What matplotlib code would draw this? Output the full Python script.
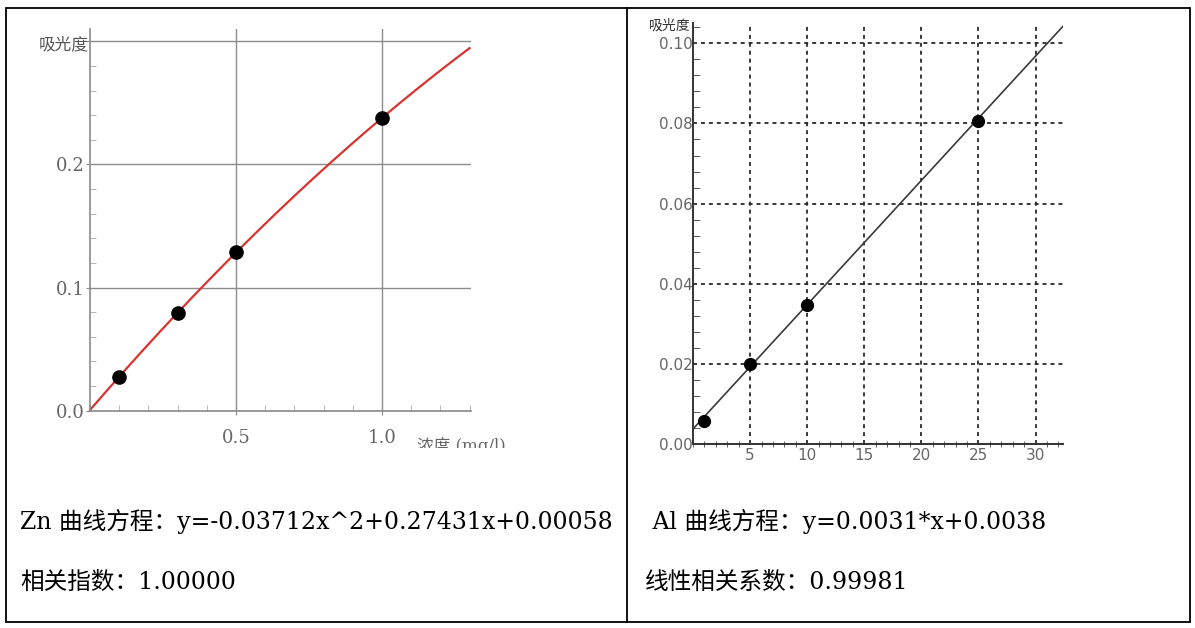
import numpy as np
import matplotlib.pyplot as plt
from matplotlib.ticker import MultipleLocator
from matplotlib.patches import Rectangle
from matplotlib.lines import Line2D

# 标准曲线数据 (Zn / Al)
zn_conc = [0.1, 0.3, 0.5, 1.0]
zn_abs = [0.0276, 0.0795, 0.1285, 0.2378]
zn_coef = [-0.03712, 0.27431, 0.00058]   # y = a*x^2 + b*x + c
zn_r = '1.00000'

al_conc = [1, 5, 10, 25]
al_abs = [0.0058, 0.0199, 0.0347, 0.0807]
al_coef = [0.0031, 0.0038]               # y = k*x + b
al_r = '0.99981'

zn_xticks = [0.5, 1.0]
zn_xlabels = ['0.5', '1.0']
zn_yticks = [0.0, 0.1, 0.2, 0.3]
zn_ylabels = ['0.0', '0.1', '0.2', '']
al_xticks = [5, 10, 15, 20, 25, 30]
al_yticks = [0.00, 0.02, 0.04, 0.06, 0.08, 0.10]

W, H = 1195, 628
fig = plt.figure(figsize=(W / 100, H / 100), dpi=100)

def px_axes(left, top, right, bottom):
    return fig.add_axes([left / W, 1 - bottom / H, (right - left) / W, (bottom - top) / H])

def px(x, y):
    return x / W, 1 - y / H

cjk = ['Noto Sans CJK SC', 'DejaVu Sans']
serif = ['DejaVu Serif', 'Noto Sans CJK SC']

# ---- 表格边框
fig.add_artist(Rectangle(px(6, 622), 1184 / W, 614 / H, transform=fig.transFigure,
                         fill=False, ec='black', lw=1.3))
fig.add_artist(Line2D([627 / W, 627 / W], [1 - 8 / H, 1 - 622 / H], transform=fig.transFigure,
                      color='black', lw=1.3))

# ---- Zn 曲线
ax1 = px_axes(90, 29, 471, 410.7)
ax1.set_xlim(0, 1.305); ax1.set_ylim(0, 0.31)
for s in ['top', 'right']:
    ax1.spines[s].set_visible(False)
for s in ['left', 'bottom']:
    ax1.spines[s].set_color('#8a8a8a'); ax1.spines[s].set_linewidth(1.2)
ax1.set_xticks(zn_xticks); ax1.set_xticklabels(zn_xlabels)
ax1.set_yticks(zn_yticks); ax1.set_yticklabels(zn_ylabels)
ax1.xaxis.set_minor_locator(MultipleLocator(0.1))
ax1.yaxis.set_minor_locator(MultipleLocator(0.02))
ax1.tick_params(which='major', length=3, color='#8a8a8a', labelcolor='#666666', labelsize=13)
ax1.tick_params(which='minor', direction='in', length=4, color='#aaaaaa')
ax1.tick_params(axis='x', which='major', pad=10)
ax1.tick_params(axis='y', which='major', pad=1)
for lab in ax1.get_xticklabels() + ax1.get_yticklabels():
    lab.set_family(serif)
ax1.grid(True, which='major', color='#8c8c8c', lw=1.0)
ax1.set_axisbelow(True)
xs = np.linspace(0, 1.30, 200)
ax1.plot(xs, np.polyval(zn_coef, xs), color='#d8342f', lw=1.6, clip_on=False)
ax1.plot(zn_conc, zn_abs, 'o', color='black', ms=9.5, zorder=5)
ax1.text(-0.005, 0.297, '吸光度', family=cjk, fontsize=12, color='#555555',
         ha='right', va='center')
unit = fig.text(417 / W, 1 - 437 / H, '浓度 (mg/l)', family=serif,
                fontsize=12, color='#666666', ha='left', va='top')
unit.set_clip_path(Rectangle((0, 1 - 448 / H), 1, 448 / H, transform=fig.transFigure))

# ---- Al 曲线
ax2 = px_axes(693, 23.2, 1063, 444.2)
ax2.set_xlim(0, 32.4); ax2.set_ylim(0, 0.105)
for s in ['top', 'right']:
    ax2.spines[s].set_visible(False)
for s in ['left', 'bottom']:
    ax2.spines[s].set_color('#333333'); ax2.spines[s].set_linewidth(1.4)
ax2.set_xticks(al_xticks)
ax2.set_yticks(al_yticks)
ax2.set_yticklabels([f'{v:.2f}' for v in al_yticks])
ax2.xaxis.set_minor_locator(MultipleLocator(1))
ax2.yaxis.set_minor_locator(MultipleLocator(0.004))
ax2.tick_params(which='major', length=0, labelcolor='#666666', labelsize=11)
ax2.tick_params(which='minor', direction='inout', length=5, color='#444444')
ax2.tick_params(axis='y', which='minor', direction='in')
ax2.tick_params(axis='x', which='major', pad=3)
ax2.tick_params(axis='y', which='major', pad=0)
ax2.grid(True, which='major', color='#2a2a2a', lw=1.3, ls=(0, (2.2, 2.2)))
ax2.set_axisbelow(True)
xl = np.linspace(0, 32.4, 50)
ax2.plot(xl, np.polyval(al_coef, xl), color='#3a3a3a', lw=1.2)
ax2.plot(al_conc, al_abs, 'o', color='black', ms=8.5, zorder=5)
ax2.text(-0.2, 0.1045, '吸光度', family=cjk, fontsize=10, color='#333333',
         ha='right', va='center')

# ---- 曲线方程与相关系数
fig.text(20 / W, 1 - 521 / H,
         f'Zn 曲线方程：y={zn_coef[0]:.5f}x^2+{zn_coef[1]:.5f}x+{zn_coef[2]:.5f}',
         family=serif, fontsize=17, ha='left', va='center')
fig.text(20 / W, 1 - 582 / H, f'相关指数：{zn_r}', family=serif, fontsize=17,
         ha='left', va='center')
fig.text(645 / W, 1 - 521 / H, f' Al 曲线方程：y={al_coef[0]}*x+{al_coef[1]}',
         family=serif, fontsize=17, ha='left', va='center')
fig.text(645 / W, 1 - 582 / H, f'线性相关系数：{al_r}', family=serif, fontsize=17,
         ha='left', va='center')

fig.savefig('out.png', dpi=100)
